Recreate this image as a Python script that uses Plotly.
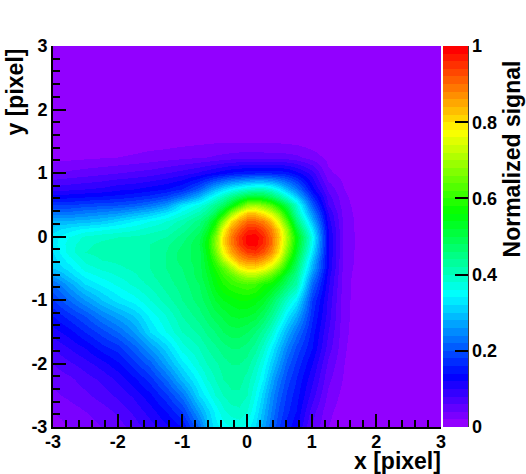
import colorsys
import plotly.graph_objects as go

x_vals = [-3, -2.75, -2.5, -2.25, -2, -1.75, -1.5, -1.25, -1,
          -.75, -.625, -.5, -.375, -.25, -.125, 0, .125, .25, .375, .5, .625, .75,
          1, 1.25, 1.5, 1.75, 2, 2.25, 2.5, 2.75, 3]
y_vals = [3, 2.75, 2.5, 2.25, 2, 1.75, 1.5, 1.25, 1,
          .75, .625, .5, .375, .25, .125, 0, -.125, -.25, -.375, -.5, -.625, -.75,
          -1, -1.25, -1.5, -1.75, -2, -2.25, -2.5, -2.75, -3]

r_p300 = [0]*31
r_p275 = [0]*31
r_p250 = [0]*31
r_p225 = [0]*31
r_p200 = [0,0,0,0,.001,.001,.001,.001,.001, .002,.002,.002,.002,.002,.002,.002,.002,.002,.002,.002,.002,.002, .001,.001,0,0,0,0,0,0,0]
r_p175 = [.001,.001,.002,.002,.002,.003,.003,.004,.005, .006,.006,.006,.006,.006,.006,.006,.006,.006,.006,.006,.005,.005, .003,.002,.001,0,0,0,0,0,0]
r_p150 = [.003,.004,.005,.006,.007,.008,.01,.011,.013, .015,.016,.017,.017,.018,.018,.018,.018,.018,.017,.016,.015,.013, .008,.004,.002,.001,0,0,0,0,0]
r_p125 = [.012,.014,.016,.018,.02,.023,.027,.03,.034, .038,.04,.043,.046,.048,.05,.05,.05,.05,.05,.049,.048,.045, .03,.014,.006,.002,0,0,0,0,0]
r_p100 = [.04,.045,.05,.055,.06,.065,.07,.08,.09, .105,.115,.125,.135,.145,.15,.155,.16,.16,.16,.155,.15,.13, .09,.024,.012,.004,.001,0,0,0,0]
r_p075 = [.09,.095,.1,.105,.115,.12,.13,.14,.16, .21,.25,.29,.32,.35,.37,.39,.4,.4,.38,.34,.29,.24, .13,.055,.02,.007,.001,0,0,0,0]
r_p062 = [.13,.135,.14,.145,.15,.16,.17,.19,.23, .29,.33,.37,.41,.45,.49,.52,.53,.52,.49,.44,.38,.31, .17,.07,.024,.008,.001,0,0,0,0]
r_p050 = [.18,.18,.19,.195,.2,.21,.23,.26,.33, .37,.4,.44,.48,.54,.61,.68,.7,.67,.63,.56,.49,.39, .21,.08,.027,.01,.002,0,0,0,0]
r_p037 = [.23,.23,.24,.25,.26,.28,.3,.33,.37, .41,.44,.49,.57,.68,.77,.82,.82,.79,.74,.66,.55,.42, .25,.1,.03,.011,.002,0,0,0,0]
r_p025 = [.28,.285,.29,.3,.32,.34,.36,.38,.41, .45,.49,.56,.68,.8,.86,.9,.9,.88,.83,.74,.62,.47, .29,.11,.032,.012,.002,0,0,0,0]
r_p012 = [.31,.33,.345,.355,.365,.375,.39,.4,.43, .47,.52,.61,.77,.86,.91,.955,.96,.93,.88,.8,.68,.52, .33,.12,.033,.012,.002,0,0,0,0]
r_p000 = [.33,.36,.385,.395,.4,.405,.41,.42,.45, .49,.55,.66,.8,.885,.945,.99,.995,.96,.9,.82,.7,.56, .36,.125,.034,.012,.002,0,0,0,0]
r_m012 = [.33,.37,.395,.405,.41,.415,.42,.435,.46, .5,.56,.67,.8,.88,.94,.985,.99,.955,.9,.81,.69,.55, .35,.125,.034,.012,.002,0,0,0,0]
r_m025 = [.32,.37,.4,.41,.41,.415,.42,.44,.47, .49,.55,.65,.77,.85,.9,.94,.95,.925,.87,.79,.66,.53, .33,.125,.033,.012,.002,0,0,0,0]
r_m037 = [.31,.35,.385,.4,.405,.41,.42,.44,.47, .49,.54,.61,.71,.79,.85,.875,.88,.855,.81,.73,.61,.5, .3,.12,.032,.012,.002,0,0,0,0]
r_m050 = [.3,.33,.37,.385,.395,.405,.42,.44,.46, .49,.53,.58,.63,.7,.77,.8,.8,.78,.73,.65,.56,.47, .28,.12,.03,.011,.002,0,0,0,0]
r_m062 = [.26,.305,.345,.365,.38,.395,.415,.435,.455, .49,.52,.56,.6,.63,.67,.7,.7,.67,.63,.57,.5,.44, .25,.11,.028,.01,.002,0,0,0,0]
r_m075 = [.22,.27,.32,.345,.365,.385,.405,.43,.45, .48,.51,.55,.58,.6,.61,.62,.61,.58,.56,.52,.47,.42, .22,.105,.027,.01,.002,0,0,0,0]
r_m100 = [.18,.22,.26,.3,.33,.35,.38,.41,.44, .47,.49,.52,.54,.55,.56,.56,.55,.53,.49,.44,.39,.34, .18,.095,.026,.01,.002,0,0,0,0]
r_m125 = [.14,.17,.2,.24,.27,.3,.345,.38,.42, .45,.47,.49,.505,.52,.525,.52,.51,.48,.44,.39,.33,.28, .165,.09,.025,.01,.002,0,0,0,0]
r_m150 = [.11,.13,.16,.19,.22,.26,.32,.36,.4, .425,.445,.46,.48,.49,.49,.48,.46,.43,.39,.33,.28,.23, .15,.08,.024,.009,.002,0,0,0,0]
r_m175 = [.08,.1,.12,.15,.17,.21,.26,.31,.37, .4,.42,.435,.45,.46,.46,.45,.43,.39,.34,.29,.24,.195, .14,.07,.022,.008,.002,0,0,0,0]
r_m200 = [.06,.075,.09,.11,.135,.17,.21,.27,.33, .38,.4,.415,.43,.44,.44,.43,.4,.36,.31,.26,.21,.175, .12,.055,.02,.007,.001,0,0,0,0]
r_m225 = [.045,.055,.07,.085,.105,.135,.17,.22,.29, .35,.38,.4,.42,.43,.43,.41,.38,.34,.28,.23,.19,.16, .105,.045,.017,.006,.001,0,0,0,0]
r_m250 = [.035,.045,.055,.07,.085,.105,.135,.175,.23, .32,.35,.38,.4,.415,.415,.4,.36,.31,.255,.21,.175,.15, .09,.035,.012,.005,.001,0,0,0,0]
r_m275 = [.02,.03,.04,.05,.065,.085,.11,.14,.18, .27,.31,.345,.375,.39,.395,.38,.34,.29,.24,.195,.165,.14, .07,.025,.009,.004,.001,0,0,0,0]
r_m300 = [.01,.02,.03,.04,.05,.07,.09,.115,.14, .22,.29,.33,.35,.36,.365,.35,.32,.27,.225,.18,.15,.125, .055,.02,.007,.003,.001,0,0,0,0]

z_rows = [r_p300, r_p275, r_p250, r_p225, r_p200, r_p175, r_p150, r_p125, r_p100,
          r_p075, r_p062, r_p050, r_p037, r_p025, r_p012, r_p000, r_m012, r_m025, r_m037, r_m050, r_m062, r_m075,
          r_m100, r_m125, r_m150, r_m175, r_m200, r_m225, r_m250, r_m275, r_m300]

cbar_ticks = [0, .2, .4, .6, .8, 1]
cbar_labels = ["0", "0.2", "0.4", "0.6", "0.8", "1"]
axis_ticks = [-3, -2, -1, 0, 1, 2, 3]
axis_labels = ["-3", "-2", "-1", "0", "1", "2", "3"]

# ROOT "pretty" palette: 50 bands of hue
n = 50
cs = []
for i in range(n):
    r, g, b = colorsys.hsv_to_rgb((280 - (i + 1) * 5.6) / 360, 1, 1)
    c = f"rgb({round(r*255)},{round(g*255)},{round(b*255)})"
    cs += [[i / n, c], [(i + 1) / n, c]]

FONT = "Liberation Sans"
tf = dict(family=FONT, size=18, color="black", weight="bold")
title_font = dict(family=FONT, size=23, color="black", weight="bold")

fig = go.Figure(go.Heatmap(
    x=x_vals, y=y_vals, z=z_rows, zmin=0, zmax=1, zsmooth="best", colorscale=cs, hoverinfo="skip",
    colorbar=dict(x=(443-53)/388, xanchor="left", xpad=0, y=0.5, yanchor="middle", ypad=0, len=1, thickness=25,
                  outlinewidth=0, ticks="inside", ticklen=13, tickwidth=1.5, tickcolor="black",
                  tickvals=cbar_ticks, ticktext=cbar_labels, tickfont=tf),
))

def ax():
    return dict(range=[-3, 3], tickvals=axis_ticks, ticktext=axis_labels, tickfont=tf, ticks="inside", ticklen=13,
                tickwidth=2, tickcolor="black", showline=True, linecolor="black", linewidth=2, showgrid=False,
                zeroline=False,
                minor=dict(ticks="inside", ticklen=7, tickwidth=1.5, tickcolor="black", dtick=0.2, tick0=-3, showgrid=False))

fig.update_layout(
    width=526, height=474, autosize=False, margin=dict(l=53, r=85, t=46, b=47),
    paper_bgcolor="white", plot_bgcolor="white", xaxis=ax(), yaxis=ax(), font=dict(family=FONT),
    shapes=[dict(type="line", xref="paper", yref="paper", x0=(468-53)/388, x1=(468-53)/388, y0=0, y1=1,
                 line=dict(color="black", width=1.5))],
    annotations=[
        dict(text="x [pixel]", xref="paper", yref="paper", x=1.006, y=-0.088, xanchor="right", yanchor="middle", showarrow=False,
             font=title_font),
        dict(text="y [pixel]", xref="paper", yref="paper", x=-0.098, y=1, xanchor="center", yanchor="top", textangle=-90, showarrow=False,
             font=title_font),
        dict(text="Normalized signal", xref="paper", yref="paper", x=1.183, y=0.966, xanchor="center", yanchor="top", textangle=-90, showarrow=False,
             font=title_font),
    ],
)
fig.update_xaxes(ticklabelstandoff=-3)
fig.write_html("out.html", config={"displayModeBar": False},
               post_script="document.body.style.margin='0';document.body.style.overflow='hidden';")
